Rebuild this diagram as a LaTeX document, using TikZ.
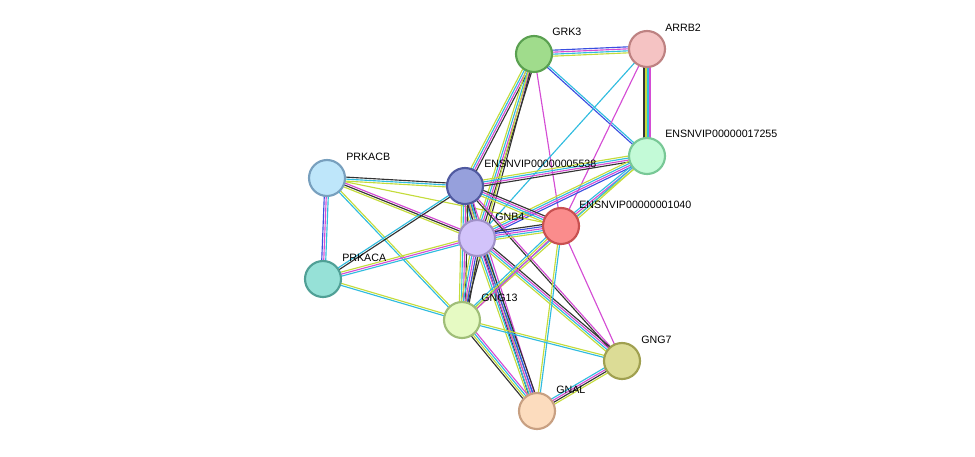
\documentclass[tikz,border=0pt]{standalone}
\usepackage{fontspec}
\setmainfont{Liberation Sans}
\usetikzlibrary{calc}
\definecolor{ek}{HTML}{333333}
\definecolor{ec}{HTML}{30BCDF}
\definecolor{em}{HTML}{D44CD4}
\definecolor{ey}{HTML}{C4DC3C}
\definecolor{eb}{HTML}{3A4FE0}
\newcommand\eg[4]{\foreach \c [count=\i] in {#4}{\pgfmathsetmacro\o{(\i-(#3+1)/2)*1.5}\draw[\c,line width=0.85pt] ($(#1)!\o pt!90:(#2)$) -- ($(#2)!\o pt!-90:(#1)$);}}
\begin{document}
\begin{tikzpicture}[x=0.75pt,y=-0.75pt,
 prot/.style={circle,minimum size=27pt,inner sep=0pt,line width=1.6pt},
 lab/.style={anchor=west,font=\fontsize{8}{9}\selectfont,inner sep=0pt}]
\useasboundingbox (0,0) rectangle (975,457);
\coordinate (grk3) at (534,54);
\coordinate (arrb2) at (647,49);
\coordinate (e17) at (647,156);
\coordinate (e55) at (465,186);
\coordinate (prkacb) at (327,178);
\coordinate (gnb4) at (477,238);
\coordinate (e10) at (561,226);
\coordinate (prkaca) at (323,279);
\coordinate (gng13) at (462,320);
\coordinate (gng7) at (622,361);
\coordinate (gnal) at (537,411);
% edges
\eg{grk3}{arrb2}{4}{ey,ec,em,eb}
\eg{grk3}{e17}{2}{eb,ec}
\eg{grk3}{e55}{4}{ey,ec,em,ek}
\eg{grk3}{gnb4}{4}{ey,ec,em,ek}
\eg{grk3}{e10}{1}{em}
\eg{grk3}{gng13}{2}{ey,ek}
\eg{arrb2}{e17}{4}{ek,ey,ec,em}
\eg{arrb2}{e10}{1}{em}
\eg{arrb2}{gnb4}{1}{ec}
\eg{e17}{e55}{4}{ey,ec,em,ek}
\eg{e17}{gnb4}{4}{ey,ec,em,eb}
\eg{e17}{e10}{3}{ec,em,ey}
\eg{e17}{gng13}{2}{ec,ey}
\eg{prkacb}{e55}{3}{ey,ec,ek}
\eg{prkacb}{gnb4}{3}{ey,ek,em}
\eg{prkacb}{prkaca}{3}{eb,em,ec}
\eg{prkacb}{gng13}{2}{ec,ey}
\eg{prkacb}{e10}{1}{ey}
\eg{e55}{gnb4}{5}{ey,ec,em,eb,ek}
\eg{e55}{e10}{4}{ey,ec,em,ek}
\eg{e55}{prkaca}{2}{ec,ek}
\eg{e55}{gng13}{4}{ey,ec,em,ek}
\eg{e55}{gnal}{4}{ek,ey,ec,em}
\eg{e55}{gng7}{2}{ek,em}
\eg{gnb4}{e10}{5}{ey,ec,em,eb,ek}
\eg{gnb4}{prkaca}{3}{ey,em,ec}
\eg{gnb4}{gng13}{5}{ey,ec,em,eb,ek}
\eg{gnb4}{gng7}{4}{ey,ec,em,ek}
\eg{gnb4}{gnal}{5}{ey,ec,em,eb,ek}
\eg{e10}{gng13}{3}{ec,ey,em}
\eg{e10}{gng7}{1}{em}
\eg{e10}{gnal}{2}{ey,ec}
\eg{prkaca}{gng13}{2}{ec,ey}
\eg{gng13}{gnal}{4}{ek,ey,ec,em}
\eg{gng13}{gng7}{2}{ec,ey}
\eg{gng7}{gnal}{4}{ec,em,ek,ey}
% nodes
\node[prot,fill={rgb,255:red,160;green,220;blue,140},draw={rgb,255:red,90;green,160;blue,80}] (n1) at (grk3) {};
\node[prot,fill={rgb,255:red,245;green,195;blue,195},draw={rgb,255:red,190;green,130;blue,130}] (n2) at (arrb2) {};
\node[prot,fill={rgb,255:red,195;green,250;blue,215},draw={rgb,255:red,120;green,200;blue,150}] (n3) at (e17) {};
\node[prot,fill={rgb,255:red,150;green,160;blue,220},draw={rgb,255:red,80;green,90;blue,160}] (n4) at (e55) {};
\node[prot,fill={rgb,255:red,190;green,230;blue,250},draw={rgb,255:red,120;green,160;blue,190}] (n5) at (prkacb) {};
\node[prot,fill={rgb,255:red,210;green,195;blue,250},draw={rgb,255:red,160;green,145;blue,200}] (n6) at (gnb4) {};
\node[prot,fill={rgb,255:red,250;green,140;blue,140},draw={rgb,255:red,200;green,80;blue,80}] (n7) at (e10) {};
\node[prot,fill={rgb,255:red,150;green,225;blue,215},draw={rgb,255:red,80;green,160;blue,150}] (n8) at (prkaca) {};
\node[prot,fill={rgb,255:red,230;green,250;blue,195},draw={rgb,255:red,160;green,190;blue,120}] (n9) at (gng13) {};
\node[prot,fill={rgb,255:red,220;green,220;blue,150},draw={rgb,255:red,160;green,160;blue,80}] (n10) at (gng7) {};
\node[prot,fill={rgb,255:red,252;green,220;blue,190},draw={rgb,255:red,200;green,160;blue,130}] (n11) at (gnal) {};
% labels
\node[lab] (l1) at (552,32) {GRK3};
\node[lab] (l2) at (665,28) {ARRB2};
\node[lab] (l3) at (665,134) {ENSNVIP00000017255};
\node[lab] (l4) at (484,164) {ENSNVIP00000005538};
\node[lab] (l5) at (346,157) {PRKACB};
\node[lab] (l6) at (495,217) {GNB4};
\node[lab] (l7) at (579,205) {ENSNVIP00000001040};
\node[lab] (l8) at (342,258) {PRKACA};
\node[lab] (l9) at (481,298) {GNG13};
\node[lab] (l10) at (641,340) {GNG7};
\node[lab] (l11) at (556,390) {GNAL};
\end{tikzpicture}
\end{document}
